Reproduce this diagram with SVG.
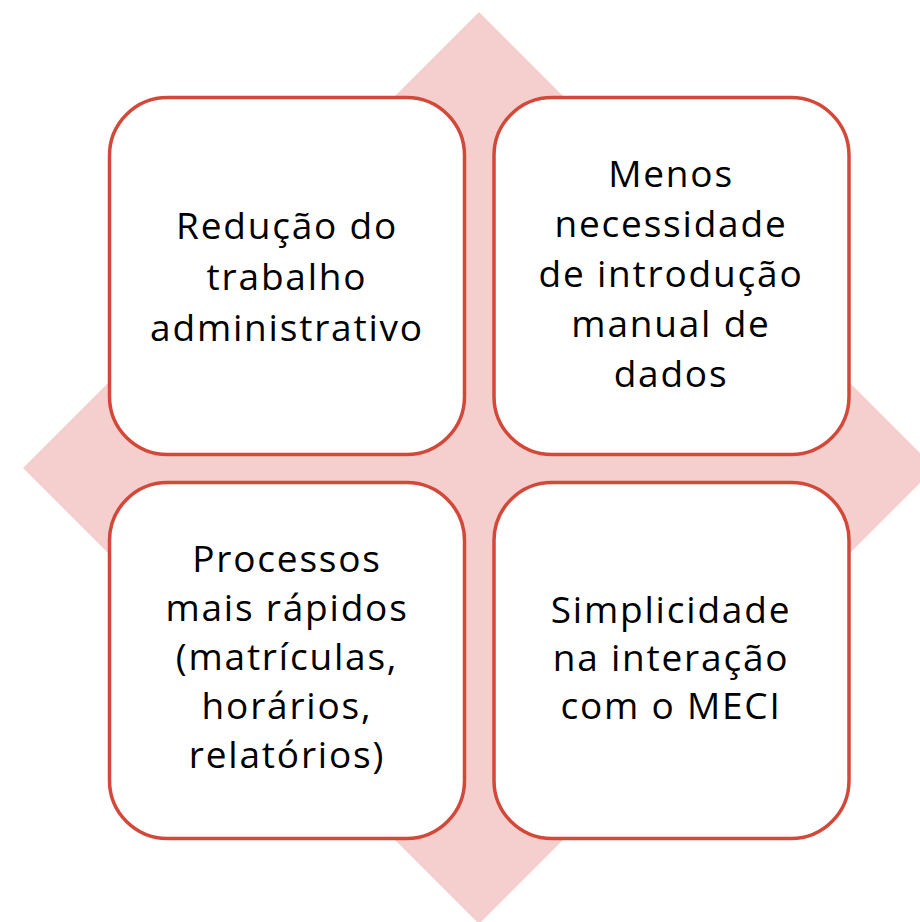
<svg xmlns="http://www.w3.org/2000/svg" width="920" height="922" viewBox="0 0 920 922">
<style>
.box{fill:#ffffff;stroke:#D2493A;stroke-width:3.5}
.t{font-family:"Open Sans","Noto Sans","Liberation Sans",sans-serif;font-size:37px;fill:#000000;text-anchor:middle;letter-spacing:1.8px}
</style>
<rect width="920" height="922" fill="#ffffff"/>
<g id="background">
<polygon points="479,12 935,468 479,924 23,468" fill="#F5CFCE"/>
</g>
<g id="connectors"></g>
<g id="node1">
<rect class="box" x="109.5" y="97.5" width="355" height="357" rx="58" ry="58"/>
<text class="t" x="287" y="239">Redução do</text>
<text class="t" x="287" y="290">trabalho</text>
<text class="t" x="287" y="341">administrativo</text>
</g>
<g id="node2">
<rect class="box" x="494" y="97.5" width="355" height="357" rx="58" ry="58"/>
<text class="t" x="671" y="187">Menos</text>
<text class="t" x="671" y="237">necessidade</text>
<text class="t" x="671" y="287">de introdução</text>
<text class="t" x="671" y="337">manual de</text>
<text class="t" x="671" y="387">dados</text>
</g>
<g id="node3">
<rect class="box" x="109.5" y="482.5" width="355" height="356" rx="58" ry="58"/>
<text class="t" x="287" y="572">Processos</text>
<text class="t" x="287" y="621">mais rápidos</text>
<text class="t" x="287" y="670">(matrículas,</text>
<text class="t" x="287" y="719">horários,</text>
<text class="t" x="287" y="768">relatórios)</text>
</g>
<g id="node4">
<rect class="box" x="494" y="482.5" width="355" height="356" rx="58" ry="58"/>
<text class="t" x="671" y="623">Simplicidade</text>
<text class="t" x="671" y="671">na interação</text>
<text class="t" x="671" y="719">com o MECI</text>
</g>
</svg>
